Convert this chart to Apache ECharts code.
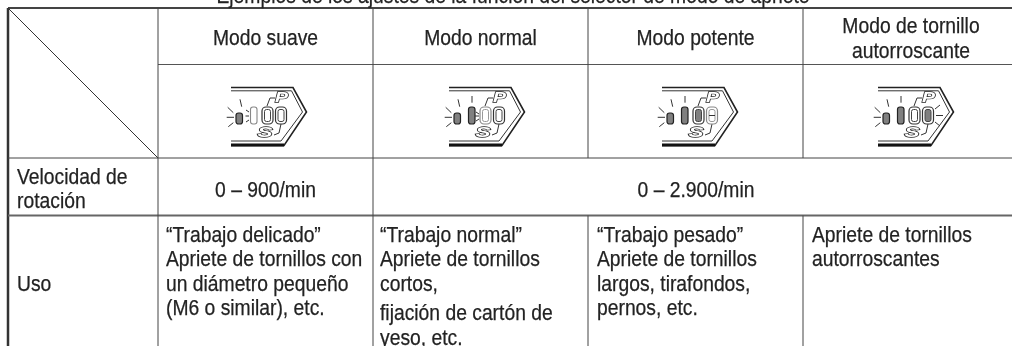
<!DOCTYPE html>
<html>
<head>
<meta charset="utf-8">
<style>
  html, body { margin: 0; padding: 0; background: #fff; }
  #chart { width: 1012px; height: 346px; }
</style>
<script src="https://cdn.jsdelivr.net/npm/echarts@6/dist/echarts.min.js"></script>
</head>
<body>
<div id="chart"></div>
<script>
var title = "Ejemplos de los ajustes de la función del selector de modo de apriete";
var modes = [["Modo suave"], ["Modo normal"], ["Modo potente"], ["Modo de tornillo", "autorroscante"]];
var rowLabels = [["Velocidad de", "rotación"], ["Uso"]];
var speeds = ["0 – 900/min", "0 – 2.900/min"];
var usage = [
  ["“Trabajo delicado”", "Apriete de tornillos con", "un diámetro pequeño", "(M6 o similar), etc."],
  ["“Trabajo normal”", "Apriete de tornillos", "cortos,", "fijación de cartón de", "yeso, etc."],
  ["“Trabajo pesado”", "Apriete de tornillos", "largos, tirafondos,", "pernos, etc."],
  ["Apriete de tornillos", "autorroscantes"]
];
// estado de los 4 pilotos del selector: 2 encendido, 1 apagado con destello, 0 apagado
var lampStates = [
  [2, 1, 0, 0],
  [2, 2, 1, 0],
  [2, 2, 2, 1],
  [2, 2, 0, 2]
];

// layout de la tabla
var colEdges = [8, 158, 373, 588, 803, 1012];
var rowEdges = [8, 64.5, 158, 215.5, 346];
var iconLeft = [231, 449, 662, 878];
var lineY = [236, 260, 285, 309];
var textColor = "#222";

var rules = [];
// [x1, y1, x2, y2, ancho, color]
rules.push([colEdges[0], rowEdges[0], colEdges[5], rowEdges[0], 2, "#444"]);
rules.push([colEdges[0], rowEdges[0], colEdges[0], rowEdges[4], 2.5, "#333"]);
rules.push([colEdges[0], rowEdges[0], colEdges[1], rowEdges[2], 1, "#333"]);
rules.push([colEdges[1], rowEdges[1], colEdges[5], rowEdges[1], 1, "#555"]);
rules.push([colEdges[0], rowEdges[2], colEdges[5], rowEdges[2], 1, "#444"]);
rules.push([colEdges[0], rowEdges[3], colEdges[5], rowEdges[3], 2, "#666"]);
rules.push([colEdges[1], rowEdges[0], colEdges[1], rowEdges[4], 1, "#444"]);
rules.push([colEdges[2], rowEdges[0], colEdges[2], rowEdges[4], 1, "#444"]);
// estas dos no cruzan la celda combinada de 0 – 2.900/min
rules.push([colEdges[3], rowEdges[0], colEdges[3], rowEdges[2], 1, "#444"]);
rules.push([colEdges[3], rowEdges[3], colEdges[3], rowEdges[4], 1, "#444"]);
rules.push([colEdges[4], rowEdges[0], colEdges[4], rowEdges[2], 1, "#444"]);
rules.push([colEdges[4], rowEdges[3], colEdges[4], rowEdges[4], 1, "#444"]);

var labels = [];
// [texto, x, y, alineado]
labels.push([title, 513, -3, "center"]);
labels.push([modes[0][0], 265.5, 38.5, "center"]);
labels.push([modes[1][0], 480.5, 38.5, "center"]);
labels.push([modes[2][0], 695.5, 38.5, "center"]);
labels.push([modes[3][0], 911, 26.5, "center"]);
labels.push([modes[3][1], 911, 51.5, "center"]);
labels.push([rowLabels[0][0], 17, 178, "left"]);
labels.push([rowLabels[0][1], 17, 202, "left"]);
labels.push([rowLabels[1][0], 17, 285, "left"]);
labels.push([speeds[0], 265.5, 191, "center"]);
labels.push([speeds[1], 696, 191, "center"]);
usage.forEach(function (lines, c) {
  var x = [166, 380, 597, 812][c];
  lines.forEach(function (txt, i) {
    var y = lineY[i];
    if (c === 1 && i === 3) y = 314;
    if (c === 1 && i === 4) y = 339;
    labels.push([txt, x, y, "left"]);
  });
});

function rayLines(list) {
  return list.map(function (r) {
    return { type: "line", shape: { x1: r[0], y1: r[1], x2: r[2], y2: r[3] }, style: { stroke: "#333", lineWidth: 1 } };
  });
}

function lamp(x, y, w, h, state) {
  if (state === 2) {
    return [{ type: "rect", shape: { x: x, y: y, width: w, height: h, r: 2.5 }, style: { fill: "#808080", stroke: "#222", lineWidth: 1.2 } }];
  }
  return [{ type: "rect", shape: { x: x, y: y, width: w, height: h, r: 2.5 }, style: { fill: "#fff", stroke: state === 1 ? "#888" : "#444", lineWidth: 1.1 } }];
}

function digit(x, state) {
  var y = 107, w = 11, h = 17;
  return [
    { type: "rect", shape: { x: x, y: y, width: w, height: h, r: 4 }, style: { fill: "#fff", stroke: state === 1 ? "#888" : "#333", lineWidth: 1.2 } },
    { type: "rect", shape: { x: x + 2.5, y: y + 2.5, width: w - 5, height: h - 5, r: 2 }, style: { fill: state === 2 ? "#808080" : "#fff", stroke: state === 1 ? "#999" : "#444", lineWidth: 1 } }
  ];
}

function iconChildren(states) {
  var kids = [
    { type: "polyline", shape: { points: [[0, 87.5], [62, 87.5], [75.5, 112], [53, 145.5], [0, 145.5]] }, style: { fill: "none", stroke: "#222", lineWidth: 1.6 } },
    { type: "polyline", shape: { points: [[0, 90.8], [60.5, 90.8], [71.5, 112], [50, 141], [0, 141]] }, style: { fill: "none", stroke: "#333", lineWidth: 1 } },
    { type: "line", shape: { x1: 0, y1: 145, x2: 53, y2: 145 }, style: { stroke: "#111", lineWidth: 3 } },
    { type: "polyline", shape: { points: [[44, 98], [39, 98], [36, 106]] }, style: { fill: "none", stroke: "#333", lineWidth: 1 } },
    { type: "polyline", shape: { points: [[50, 124], [48, 133], [43, 135]] }, style: { fill: "none", stroke: "#333", lineWidth: 1 } },
    { type: "text", x: 50.5, y: 98, scaleX: 1.3, style: { text: "P", font: "italic bold 15px 'Liberation Sans'", fill: "#fff", stroke: "#222", lineWidth: 1.3, align: "center", verticalAlign: "middle" } },
    { type: "text", x: 34, y: 133, scaleX: 1.5, style: { text: "S", font: "italic bold 15px 'Liberation Sans'", fill: "#fff", stroke: "#222", lineWidth: 1.3, align: "center", verticalAlign: "middle" } }
  ];
  kids = kids.concat(lamp(5, 113, 6.5, 11, states[0]));
  kids = kids.concat(rayLines([[-3.3, 107.3, 2.3, 112.7], [-4.3, 117.3, 3, 117.3], [-2.7, 126.7, 2.3, 122.7], [9, 99.3, 10.7, 106.7]]));
  kids = kids.concat(lamp(19.5, 107, 6.5, 17, states[1]));
  if (states[1] === 2) kids = kids.concat(rayLines([[23, 96, 23, 102.7]]));
  if (states[1] === 1) kids = kids.concat(rayLines([[15, 110, 18, 112], [14.5, 116, 18, 116], [15, 122, 18, 120]]));
  kids = kids.concat(digit(31, states[2]));
  if (states[2] === 1) kids = kids.concat(rayLines([[27, 112, 30, 114], [26, 116, 30, 116], [27, 121, 30, 119]]));
  kids = kids.concat(digit(44.5, states[3]));
  if (states[3] === 1) kids = kids.concat(rayLines([[47, 115.5, 53, 115.5]]));
  if (states[3] === 2) kids = kids.concat(rayLines([[57, 109, 62, 105], [58, 115.5, 65, 115.5], [57, 122, 62, 126]]));
  return kids;
}

var chart = echarts.init(document.getElementById("chart"), null, { renderer: "canvas" });
var option = {
  animation: false,
  backgroundColor: "#fff",
  grid: { left: 0, right: 0, top: 0, bottom: 0 },
  xAxis: { type: "value", min: 0, max: 1012, show: false },
  yAxis: { type: "value", min: 0, max: 346, inverse: true, show: false },
  series: [
    {
      type: "custom",
      coordinateSystem: "cartesian2d",
      clip: false,
      silent: true,
      data: rules.map(function (r, i) { return [i, 0]; }),
      renderItem: function (params, api) {
        var r = rules[params.dataIndex];
        var a = api.coord([r[0], r[1]]);
        var b = api.coord([r[2], r[3]]);
        return { type: "line", shape: { x1: a[0], y1: a[1], x2: b[0], y2: b[1] }, style: { stroke: r[5], lineWidth: r[4] } };
      }
    },
    {
      type: "custom",
      coordinateSystem: "cartesian2d",
      clip: false,
      silent: true,
      data: lampStates.map(function (s, i) { return [i, 0]; }),
      renderItem: function (params, api) {
        var o = api.coord([iconLeft[params.dataIndex], 0]);
        return { type: "group", x: o[0], y: o[1], children: iconChildren(lampStates[params.dataIndex]) };
      }
    },
    {
      type: "custom",
      coordinateSystem: "cartesian2d",
      clip: false,
      silent: true,
      data: labels.map(function (l, i) { return [i, 0]; }),
      renderItem: function (params, api) {
        var l = labels[params.dataIndex];
        var p = api.coord([l[1], l[2]]);
        return {
          type: "text",
          x: p[0],
          y: p[1],
          scaleX: 0.877,
          style: {
            text: l[0],
            font: "22px 'Liberation Sans'",
            fill: textColor,
            stroke: textColor,
            lineWidth: 0.25,
            align: l[3],
            verticalAlign: "middle"
          }
        };
      }
    }
  ]
};
chart.setOption(option);
window.onresize = chart.resize;
</script>
</body>
</html>
